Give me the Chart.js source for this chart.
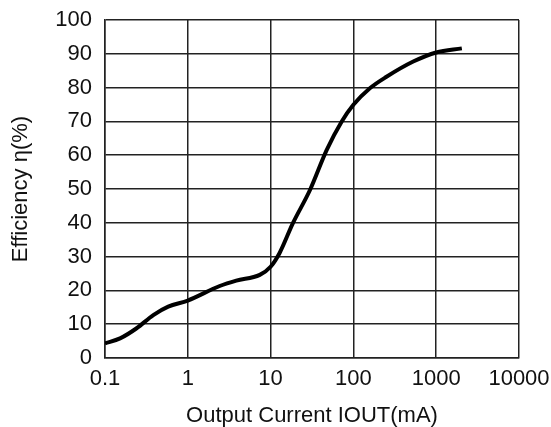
<!DOCTYPE html>
<html>
<head>
<meta charset="utf-8">
<script src="https://cdn.jsdelivr.net/npm/chart.js@4"></script>
<style>
  body { margin: 0; background: #fff; }
  canvas { display: block; }
</style>
</head>
<body>
<canvas id="effChart" width="551" height="427"></canvas>
<script>
// output current (mA) and efficiency (%)
const currents = [0.1, 0.152, 0.241, 0.383, 0.58, 1, 2.43, 3.85, 7.4, 10, 12.8, 18.6, 29.9, 47.5, 72, 100, 158, 251, 528, 1000, 2040];
const efficiency = [4.3, 5.8, 8.8, 12.7, 15.2, 17.0, 21.3, 22.9, 24.6, 27.0, 31.0, 39.9, 49.7, 61.5, 69.9, 74.9, 79.8, 83.2, 87.7, 90.4, 91.6];

const xTicks = [0.1, 1, 10, 100, 1000, 10000];
const yTicks = [0, 10, 20, 30, 40, 50, 60, 70, 80, 90, 100];

const fontFam = "'Liberation Sans', Arial, Helvetica, sans-serif";

const ctx = document.getElementById("effChart").getContext("2d");
new Chart(ctx, {
    type: "line",
    data: {
        datasets: [{
            data: currents.map((c, i) => ({ x: c, y: efficiency[i] })),
            borderColor: "#000",
            borderWidth: 4,
            pointRadius: 0,
            fill: false,
            cubicInterpolationMode: "monotone"
        }]
    },
    options: {
        responsive: false,
        animation: false,
        layout: { padding: { top: 20, right: 32, left: 0, bottom: 0 } },
        plugins: {
            legend: { display: false },
            tooltip: { enabled: false }
        },
        scales: {
            x: {
                type: "logarithmic",
                min: 0.1,
                max: 10000,
                afterBuildTicks: s => { s.ticks = xTicks.map(v => ({ value: v })); },
                afterFit: s => {
                    s.height = 69;
                    s.paddingLeft = 0;
                    s.paddingRight = 0;
                },
                ticks: {
                    color: "#111",
                    font: { family: fontFam, size: 22 },
                    padding: 8,
                    maxRotation: 0,
                    callback: v => String(v)
                },
                grid: { color: "#222", lineWidth: 1.5, drawTicks: false },
                border: { color: "#222", width: 1.5 },
                title: {
                    display: true,
                    text: "Output Current IOUT(mA)",
                    color: "#111",
                    font: { family: fontFam, size: 22, lineHeight: 1 },
                    padding: { top: 0, bottom: 0 }
                }
            },
            y: {
                min: 0,
                max: 100,
                afterBuildTicks: s => { s.ticks = yTicks.map(v => ({ value: v })); },
                afterFit: s => {
                    s.width = 105;
                    s.paddingTop = 0;
                    s.paddingBottom = 0;
                },
                ticks: {
                    color: "#111",
                    font: { family: fontFam, size: 22 },
                    padding: 13
                },
                grid: { color: "#222", lineWidth: 1.5, drawTicks: false },
                border: { color: "#222", width: 1.5 },
                title: {
                    display: true,
                    text: "Efficiency η(%)",
                    color: "#111",
                    font: { family: fontFam, size: 22, lineHeight: 1 },
                    padding: { top: 10, bottom: 0 }
                }
            }
        }
    }
});
</script>
</body>
</html>
